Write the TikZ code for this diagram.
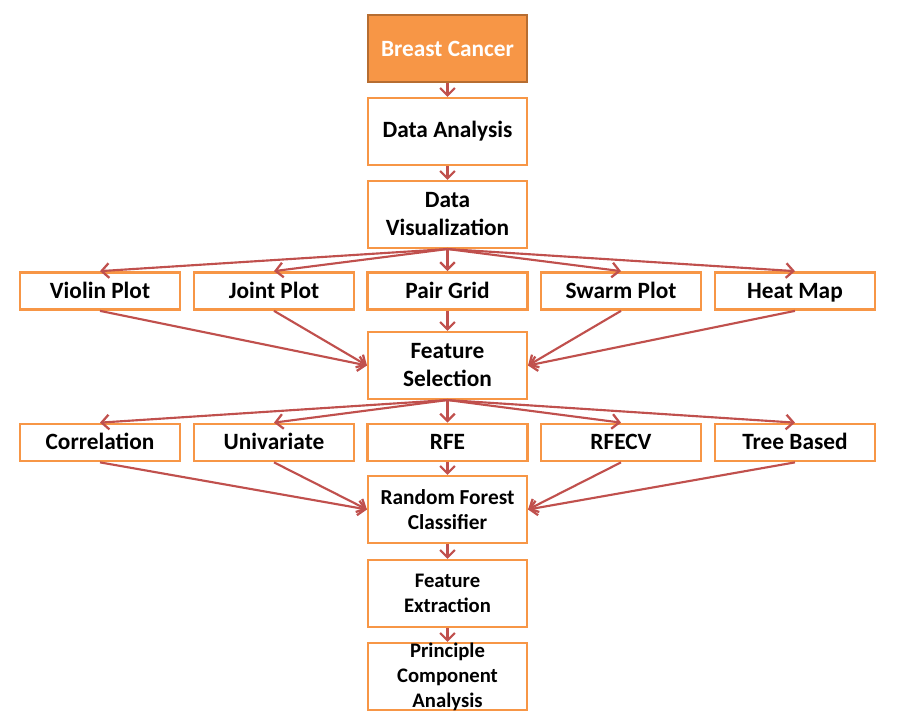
\documentclass[tikz,border=0pt]{standalone}
\usepackage{fontspec}
\setmainfont{Carlito}
\usetikzlibrary{arrows.meta}

\definecolor{boxorange}{HTML}{F79646}
\definecolor{boxdark}{HTML}{B66D31}
\definecolor{arrowred}{HTML}{C0504D}

\tikzset{
  box/.style={draw=boxorange, line width=1.8pt, fill=white, align=center,
    minimum width=119pt, minimum height=50pt, inner sep=1pt,
    font=\bfseries\fontsize{17.5}{21}\selectfont},
  rowbox/.style={box, minimum width=120pt, minimum height=28pt,
    text height=13pt, text depth=2pt},
  midbox/.style={box, font=\bfseries\fontsize{15.5}{18.8}\selectfont},
  smallbox/.style={box, font=\bfseries\fontsize{16}{18.8}\selectfont},
  topbox/.style={box, fill=boxorange, draw=boxdark, text=white},
  flow/.style={draw=arrowred, line width=1.6pt,
    -{Straight Barb[length=5.5pt,width=11pt,line width=1.7pt]}}
}

\begin{document}
\begin{tikzpicture}[x=0.75pt,y=-0.75pt]
    \useasboundingbox (0,0) rectangle (903,720);
    % Definitions:
    \node[topbox] (bc) at (447.5,48.5) {Breast Cancer};
    \node[box] (da) at (447.5,131.5) {Data Analysis};
    \node[box] (dv) at (447.5,214.5) {Data\\Visualization};
    \node[rowbox] (vp) at (100,291) {Violin Plot};
    \node[rowbox] (jp) at (274,291) {Joint Plot};
    \node[rowbox] (pg) at (447.5,291) {Pair Grid};
    \node[rowbox] (sp) at (621,291) {Swarm Plot};
    \node[rowbox] (hm) at (795,291) {Heat Map};
    \node[box] (fs) at (447.5,365.5) {Feature\\Selection};
    \node[rowbox] (co) at (100,442.5) {Correlation};
    \node[rowbox] (un) at (274,442.5) {Univariate};
    \node[rowbox] (rfe) at (447.5,442.5) {RFE};
    \node[rowbox] (rfecv) at (621,442.5) {RFECV};
    \node[rowbox] (tb) at (795,442.5) {Tree Based};
    \node[smallbox] (rf) at (447.5,509.5) {Random Forest\\Classifier};
    \node[midbox] (fe) at (447.5,593.5) {Feature\\Extraction};
    \node[midbox] (pca) at (447.5,676.5) {};
    \node[font=\bfseries\fontsize{15.5}{18.8}\selectfont, align=center] (pcatext) at (pca) {Principle\\Component\\Analysis};
    % Drawing:
    \draw[flow] (bc) -- (da);
    \draw[flow] (da) -- (dv);
    \foreach \n in {vp,jp,pg,sp,hm}
      \draw[flow] (dv.south) -- (\n.north);
    \draw[flow] (vp.south) -- (fs.west);
    \draw[flow] (jp.south) -- (fs.west);
    \draw[flow] (pg) -- (fs);
    \draw[flow] (sp.south) -- (fs.east);
    \draw[flow] (hm.south) -- (fs.east);
    \foreach \n in {co,un,rfe,rfecv,tb}
      \draw[flow] (fs.south) -- (\n.north);
    \draw[flow] (co.south) -- (rf.west);
    \draw[flow] (un.south) -- (rf.west);
    \draw[flow] (rfe) -- (rf);
    \draw[flow] (rfecv.south) -- (rf.east);
    \draw[flow] (tb.south) -- (rf.east);
    \draw[flow] (rf) -- (fe);
    \draw[flow] (fe) -- (pca);
\end{tikzpicture}
\end{document}
